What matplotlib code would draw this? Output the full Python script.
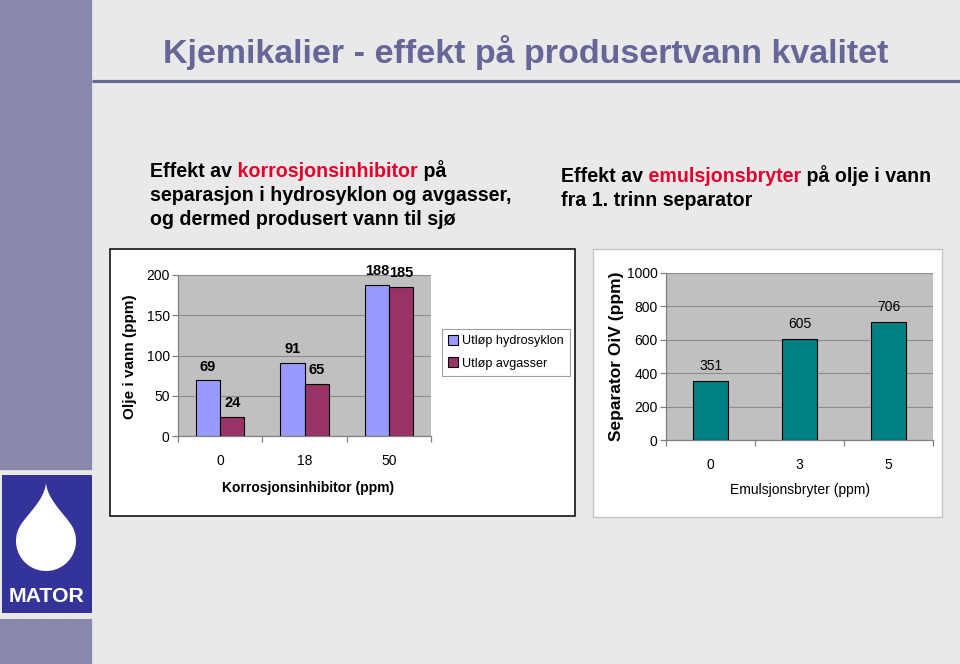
import matplotlib
matplotlib.use("Agg")
import matplotlib.pyplot as plt
from matplotlib.patches import Rectangle, Polygon
from matplotlib import font_manager as fm
import numpy as np

# ---------------- data ----------------
title_text = "Kjemikalier - effekt på produsertvann kvalitet"
left_sub_lines = [
    [("Effekt av", "k"), (" korrosjonsinhibitor", "r"), (" på", "k")],
    [("separasjon i hydrosyklon og avgasser,", "k")],
    [("og dermed produsert vann til sjø", "k")],
]
right_sub_lines = [
    [("Effekt av", "k"), (" emulsjonsbryter", "r"), (" på olje i vann", "k")],
    [("fra 1. trinn separator", "k")],
]

ci_categories = ["0", "18", "50"]
series_names = ["Utløp hydrosyklon", "Utløp avgasser"]
hydrosyklon = [69, 91, 188]
avgasser = [24, 65, 185]
left_yticks = [0, 50, 100, 150, 200]

eb_categories = ["0", "3", "5"]
separator_oiv = [351, 605, 706]
right_yticks = [0, 200, 400, 600, 800, 1000]

# ---------------- fonts ----------------
names = {f.name for f in fm.fontManager.ttflist}
NARROW = "Liberation Sans Narrow" if "Liberation Sans Narrow" in names else "Liberation Sans"
plt.rcParams["font.family"] = ["Liberation Sans", "DejaVu Sans"]

W, H = 960, 664
fig = plt.figure(figsize=(W / 100, H / 100), dpi=100, facecolor="#E9E9E9")

bg = fig.add_axes([0, 0, 1, 1], zorder=0)
bg.set_xlim(0, W)
bg.set_ylim(H, 0)
bg.axis("off")

SLATE = "#666699"
RED = "#E4002B"

# sidebar pattern
def pattern(y0, y1):
    bg.add_patch(Rectangle((0, y0), 92, y1 - y0, facecolor="#8686AC", edgecolor="none"))
    for x in np.arange(1.5, 92, 3):
        bg.plot([x, x], [y0, y1], color="#9A9ABB", lw=0.35, alpha=0.6)
    for y in np.arange(y0 + 1.5, y1, 3):
        bg.plot([0, 92], [y, y], color="#9A9ABB", lw=0.35, alpha=0.6)

pattern(0, 470)
pattern(619, 664)
bg.add_patch(Rectangle((2, 475), 90, 138, facecolor="#333399", edgecolor="none"))

# drop shape
cx, cy, r = 46, 541, 30
tip = np.array([46.0, 483.0])
a = np.deg2rad(np.linspace(-35, 215, 80))
arc = np.column_stack([cx + r * np.cos(a), cy + r * np.sin(a)])
def bez(p0, p1, p2, p3, n=30):
    t = np.linspace(0, 1, n)[:, None]
    return (1 - t) ** 3 * p0 + 3 * (1 - t) ** 2 * t * p1 + 3 * (1 - t) * t ** 2 * p2 + t ** 3 * p3
rs = arc[0]
ls = arc[-1]
right_side = bez(tip, tip + [1.5, 16], rs + [-8, -11.5], rs)
left_side = bez(ls, ls + [8, -11.5], tip + [-1.5, 16], tip)
drop = np.vstack([right_side, arc, left_side])
bg.add_patch(Polygon(drop, closed=True, facecolor="white", edgecolor="none"))

# title line
bg.plot([92, 960], [81, 81], color=SLATE, lw=2.3, solid_capstyle="butt")

fig.canvas.draw()
R = fig.canvas.get_renderer()

def fit(t, width):
    bb = t.get_window_extent(R)
    t.set_fontsize(t.get_fontsize() * width / bb.width)

mator = bg.text(46, 596, "MATOR", color="white", fontweight="bold", fontsize=16,
                family=NARROW, ha="center", va="center")
fit(mator, 76)

title = bg.text(163, 52, title_text, color=SLATE, fontweight="bold", fontsize=28,
                family=NARROW, ha="left", va="center")
fit(title, 727)

probe = bg.text(0, 0, "separasjon i hydrosyklon og avgasser,", fontsize=14,
                fontweight="bold", family=NARROW)
fit(probe, 362)
SUB_FS = probe.get_fontsize()
probe.remove()

def rainbow(x, y, lines, spacing):
    for i, line in enumerate(lines):
        prev = None
        for s, c in line:
            col = RED if c == "r" else "black"
            if prev is None:
                prev = bg.text(x, y + i * spacing, s, color=col, fontsize=SUB_FS,
                               fontweight="bold", family=NARROW, ha="left", va="baseline")
            else:
                prev = bg.annotate(s, xy=(1, 0), xycoords=prev, color=col, fontsize=SUB_FS,
                                   fontweight="bold", family=NARROW, ha="left", va="bottom")

rainbow(150, 177, left_sub_lines, 24)
rainbow(561, 182, right_sub_lines, 24)

# chart boxes
bg.add_patch(Rectangle((110, 249), 465, 267, facecolor="white", edgecolor="black", lw=1.1))
bg.add_patch(Rectangle((593, 249), 349, 268, facecolor="white", edgecolor="#C4C4C4", lw=1.0))

def px_axes(x0, y0, x1, y1):
    return fig.add_axes([x0 / W, 1 - y1 / H, (x1 - x0) / W, (y1 - y0) / H], zorder=2)

def style_axes(ax, ncat, yticks):
    ax.set_facecolor("#C0C0C0")
    ax.set_xlim(-0.5, ncat - 0.5)
    ax.set_ylim(yticks[0], yticks[-1])
    ax.set_yticks(yticks)
    ax.set_xticks(np.arange(ncat + 1) - 0.5)
    ax.set_xticklabels([])
    ax.grid(axis="y", color="#8C8C8C", lw=0.8)
    ax.set_axisbelow(True)
    for s in ("top", "right"):
        ax.spines[s].set_visible(False)
    for s in ("left", "bottom"):
        ax.spines[s].set_color("#808080")
        ax.spines[s].set_linewidth(0.9)
    ax.tick_params(axis="both", which="major", direction="out", length=4, width=0.9,
                   color="#808080", labelsize=10, pad=2)
    ax.tick_params(axis="x", which="minor", length=0, labelsize=10, pad=13)

# ---- left chart ----
axL = px_axes(178, 275, 431, 436)
style_axes(axL, len(ci_categories), left_yticks)
x = np.arange(len(ci_categories))
w = 1 / 3.5
b1 = axL.bar(x - w / 2, hydrosyklon, w, color="#9999FF", edgecolor="black", lw=0.8,
             label=series_names[0], zorder=3)
b2 = axL.bar(x + w / 2, avgasser, w, color="#993366", edgecolor="black", lw=0.8,
             label=series_names[1], zorder=3)
axL.set_xticks(x, minor=True)
axL.set_xticklabels(ci_categories, minor=True)
for bars in (b1, b2):
    for rect in bars:
        axL.annotate(f"{rect.get_height():.0f}", xy=(rect.get_x() + rect.get_width() / 2, rect.get_height()),
                     xytext=(0, 5), textcoords="offset points", ha="center", va="bottom",
                     fontsize=10.5, fontweight="bold", annotation_clip=False)
axL.set_ylabel("Olje i vann (ppm)", fontsize=11, fontweight="bold")
axL.yaxis.label.set_va("center")
axL.yaxis.set_label_coords((130 - 178) / 253, 0.49)
axL.set_xlabel("Korrosjonsinhibitor (ppm)", fontsize=10, fontweight="bold")
axL.xaxis.label.set_va("center")
axL.xaxis.set_label_coords((308 - 178) / 253, (436 - 488) / 161)
leg = axL.legend(loc="upper left", bbox_to_anchor=(442 / W, 1 - 329 / H), bbox_transform=fig.transFigure,
                 borderaxespad=0, frameon=True, fancybox=False, edgecolor="#A0A0A0", facecolor="white",
                 fontsize=9.1, handlelength=0.75, handleheight=0.75, handletextpad=0.3,
                 labelspacing=0.8, borderpad=0.5, framealpha=1)
leg.get_frame().set_linewidth(0.8)

# ---- right chart ----
axR = px_axes(666, 273, 933, 440)
style_axes(axR, len(eb_categories), right_yticks)
x2 = np.arange(len(eb_categories))
b3 = axR.bar(x2, separator_oiv, 0.4, color="#008080", edgecolor="black", lw=0.8, zorder=3)
axR.set_xticks(x2, minor=True)
axR.set_xticklabels(eb_categories, minor=True)
for rect in b3:
    axR.annotate(f"{rect.get_height():.0f}", xy=(rect.get_x() + rect.get_width() / 2, rect.get_height()),
                 xytext=(0, 6), textcoords="offset points", ha="center", va="bottom",
                 fontsize=10, annotation_clip=False)
axR.set_ylabel("Separator OiV (ppm)", fontsize=12.5, fontweight="bold")
axR.yaxis.label.set_va("center")
axR.yaxis.set_label_coords((617 - 666) / 267, 0.5)
axR.set_xlabel("Emulsjonsbryter (ppm)", fontsize=10)
axR.xaxis.label.set_va("center")
axR.xaxis.set_label_coords((800 - 666) / 267, (440 - 490) / 167)

fig.savefig("out.png", dpi=100, facecolor=fig.get_facecolor())
